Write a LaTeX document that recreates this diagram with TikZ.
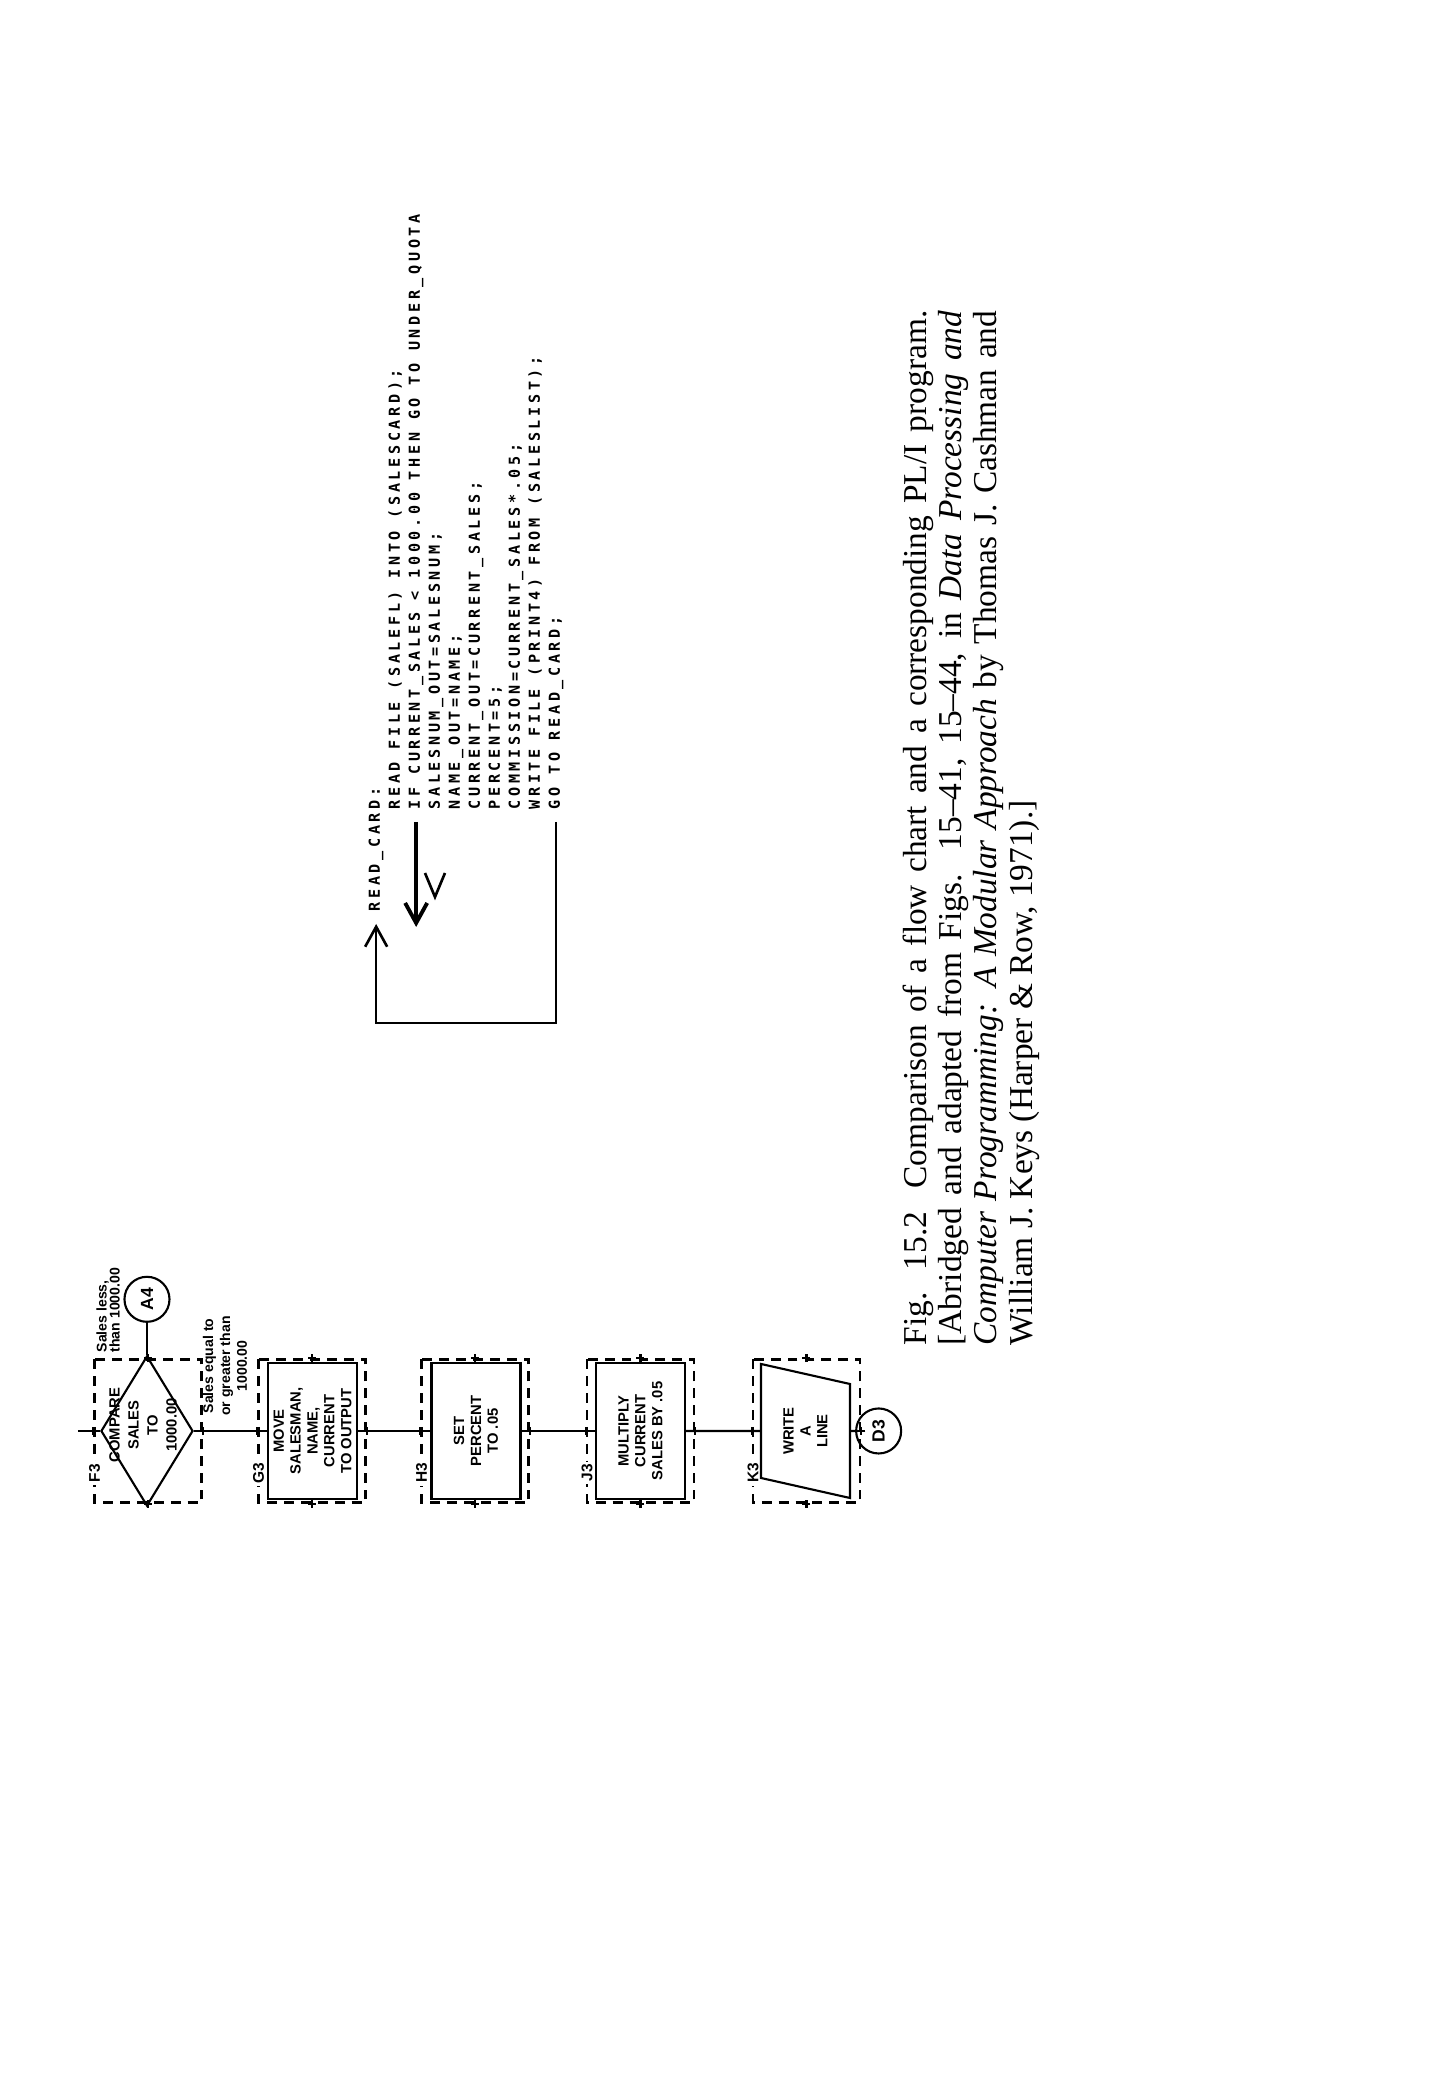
\documentclass[tikz,border=0pt]{standalone}
\usepackage{fontspec}
\setmainfont{Liberation Serif}
\setsansfont{Liberation Sans}
\newfontfamily\listingfont{DejaVu Sans Mono}[LetterSpace=24]
\usetikzlibrary{positioning,shapes.geometric,arrows.meta}

\begin{document}
\begin{tikzpicture}[
                x=0.01cm, y=0.01cm, rotate=90, transform shape,
                every node/.style={inner sep=0pt},
                flow/.style={line width=0.6pt},
                gridbox/.style={draw, dash pattern=on 2.8pt off 2pt, line width=0.7pt, minimum width=1.43cm, minimum height=1.07cm},
                boxtext/.style={font=\sffamily\bfseries\fontsize{4.2}{4.8}\selectfont, align=center},
                stepbox/.style={draw, line width=0.6pt, minimum width=1.36cm, minimum height=0.89cm, boxtext},
                decision/.style={diamond, draw, line width=0.6pt, minimum width=1.5cm, minimum height=0.92cm},
                io/.style={trapezium, trapezium left angle=77, trapezium right angle=103, trapezium stretches=true, draw, line width=0.6pt, minimum width=1.34cm, minimum height=0.89cm, boxtext},
                conn/.style={circle, draw, line width=0.6pt, minimum size=0.45cm, font=\sffamily\bfseries\fontsize{5}{6}\selectfont},
                tag/.style={fill=white, inner sep=0.8pt, font=\sffamily\bfseries\fontsize{4.4}{5}\selectfont},
                note/.style={font=\sffamily\bfseries\fontsize{4}{3.7}\selectfont},
                code/.style={anchor=base west, inner xsep=0.12cm, font=\listingfont\bfseries\fontsize{4.3}{5}\selectfont},
                codeline/.style={line width=0.75pt},
                caption/.style={anchor=base west, font=\fontsize{9.5}{10}\selectfont},
                >={Straight Barb[length=0.2cm, width=0.22cm]}
                ]
                \useasboundingbox[fill=white] (0,0) rectangle (2100,1450);

                % Define the nodes
                \node[gridbox] (f3frame) at (669,1302) {};
                \node[gridbox] (g3frame) at (669,1138) {};
                \node[gridbox] (h3frame) at (669,975) {};
                \node[gridbox] (j3frame) at (669,809.5) {};
                \node[gridbox] (k3frame) at (669,643.5) {};

                \node[tag] (f3tag) at (627,1355.5) {F3};
                \node[tag] (g3tag) at (627,1191.5) {G3};
                \node[tag] (h3tag) at (627,1028.5) {H3};
                \node[tag] (j3tag) at (627,863) {J3};
                \node[tag] (k3tag) at (627,697) {K3};

                \node[decision] (f3) at (669,1303) {};
                \node[boxtext, font=\sffamily\bfseries\fontsize{4.2}{5.4}\selectfont] (f3text) at (675,1307) {COMPARE\\SALES\\TO\\1000.00};
                \node[stepbox] (g3) at (669,1137.5) {MOVE\\SALESMAN,\\NAME,\\CURRENT\\TO OUTPUT};
                \node[stepbox] (h3) at (669,974) {SET\\PERCENT\\TO .05};
                \node[stepbox] (j3) at (669,809.5) {MULTIPLY\\CURRENT\\SALES BY .05};
                \node[io] (k3) at (669,644.5) {WRITE\\A\\LINE};
                \node[conn] (a4) [right=0.32cm of f3] {A4};
                \node[conn] (d3) [below=0.04cm of k3] {D3};

                \node[note, anchor=west, align=left] (lessnote) at (747,1342) {Sales less,\\than 1000.00};
                \node[note, align=center, font=\sffamily\bfseries\fontsize{4}{4.8}\selectfont] (equalnote) at (734,1225) {Sales equal to\\or greater than\\1000.00};

                % Draw the flow lines
                \coordinate (entry) at (669,1372);
                \draw[flow] (entry) -- (f3.north);
                \draw[flow] (f3.south) -- (g3);
                \draw[flow] (g3) -- (h3);
                \draw[flow] (h3) -- (j3);
                \draw[flow] (j3) -- (k3);
                \draw[flow] (f3.east) -- (a4);
                \draw[flow] (k3) -- (d3);
                \foreach \fr in {f3frame,g3frame,h3frame,j3frame,k3frame}
                  \foreach \anc in {north,south,east,west}
                    \draw[flow] (\fr.\anc) +(-4,0) -- +(4,0) +(0,-4) -- +(0,4);

                % The program
                \node[code] (readcard) at (1176,1070) {READ\_CARD:};
                \foreach \stmt [count=\i] in {
                    {READ FILE (SALEFL) INTO (SALESCARD);},
                    {IF CURRENT\_SALES < 1000.00 THEN GO TO UNDER\_QUOTA},
                    {SALESNUM\_OUT=SALESNUM;},
                    {NAME\_OUT=NAME;},
                    {CURRENT\_OUT=CURRENT\_SALES;},
                    {PERCENT=5;},
                    {COMMISSION=CURRENT\_SALES*.05;},
                    {WRITE FILE (PRINT4) FROM (SALESLIST);},
                    {GO TO READ\_CARD;}}
                  \node[code] (l\i) at (1278,1070-20*\i) {\stmt};

                \draw[codeline, ->] (l9.west) -- ++(-201,0) |- (readcard.west);
                \draw[line width=1.1pt, ->] (l2.west) -- ++(-105,0);
                \draw[codeline] (1227,1025) -- (1203,1015) -- (1227,1005);

                % Caption
                \node[caption] (cap1) at (754,523) {\makebox[10.34cm][s]{Fig. 15.2\hspace{0.7em}Comparison of a flow chart and a corresponding PL/I program.}};
                \node[caption] (cap2) at (754,488) {\makebox[10.34cm][s]{[Abridged and adapted from Figs. 15--41, 15--44, in \textit{Data Processing and}}};
                \node[caption] (cap3) at (754,453) {\makebox[10.34cm][s]{\textit{Computer Programming: A Modular Approach} by Thomas J. Cashman and}};
                \node[caption] (cap4) at (754,417) {William J. Keys (Harper \& Row, 1971).]};
            \end{tikzpicture}
\end{document}
